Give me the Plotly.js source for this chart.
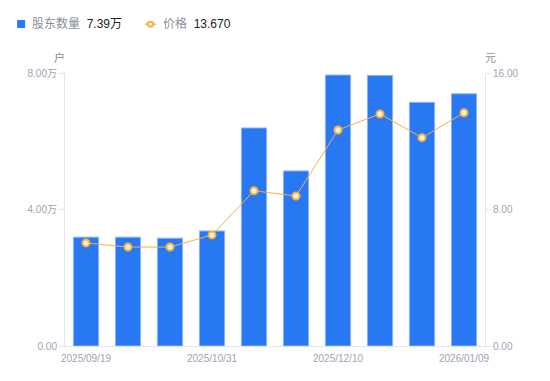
<!DOCTYPE html>
<html><head><meta charset="utf-8">
<script src="https://cdn.plot.ly/plotly-3.0.1.min.js"></script>
<style>html,body{margin:0;padding:0;background:#fff}#c{width:550px;height:381px}</style>
</head><body><div id="c"></div>
<script>
var dates = ["2025/09/19","2025/09/30","2025/10/20","2025/10/31","2025/11/10","2025/11/20","2025/12/10","2025/12/20","2025/12/31","2026/01/09"];
var holders = [31900, 31900, 31600, 33700, 63900, 51300, 79400, 79300, 71400, 73900];
var prices = [6.04, 5.80, 5.80, 6.51, 9.10, 8.79, 12.66, 13.60, 12.21, 13.67];
var xTicks = ["2025/09/19","2025/10/31","2025/12/10","2026/01/09"];
var leftTickVals = [0, 40000, 80000];
var leftTickText = ["0.00","4.00万","8.00万"];
var rightTickVals = [0, 8, 16];
var rightTickText = ["0.00","8.00","16.00"];

var FONT = "Liberation Sans, Arial, Noto Sans CJK SC, sans-serif";
var gray = "#9ea3b3";
var traces = [
  {type:"bar", x:dates, y:holders, name:"股东数量", yaxis:"y",
   marker:{color:"#2877f3", line:{color:"#8db6f7", width:1}}, hoverinfo:"none"},
  {type:"scatter", mode:"lines+markers", x:dates, y:prices, name:"价格", yaxis:"y2",
   line:{color:"#f9b13c", width:1},
   marker:{symbol:"circle", size:7, color:"#fff7e6", line:{color:"#f9b13c", width:2}}, hoverinfo:"none"}
];
var layout = {
  width:550, height:381, paper_bgcolor:"#fff", plot_bgcolor:"#fff",
  margin:{l:65, r:65, t:73, b:35},
  showlegend:false, bargap:0.4,
  font:{family:FONT, size:10, color:gray},
  xaxis:{type:"category", range:[-0.5, 9.5], tickmode:"array", tickvals:xTicks, ticktext:xTicks,
    showgrid:false, zeroline:false, showline:true, linecolor:"#e3e5ea", linewidth:1,
    ticks:"", ticklabelstandoff:3, tickfont:{size:10, color:gray}, fixedrange:true},
  yaxis:{range:[0,80000], tickmode:"array", tickvals:leftTickVals, ticktext:leftTickText,
    showgrid:false, zeroline:false, showline:true, linecolor:"#e3e5ea", linewidth:1,
    ticks:"outside", ticklen:5, tickcolor:"#e3e5ea", tickfont:{size:10, color:gray}},
  yaxis2:{range:[0,16], overlaying:"y", side:"right", tickmode:"array", tickvals:rightTickVals, ticktext:rightTickText,
    showgrid:false, zeroline:false, showline:true, linecolor:"#e3e5ea", linewidth:1,
    ticks:"outside", ticklen:5, tickcolor:"#e3e5ea", tickfont:{size:10, color:gray}},
  shapes:[
    {type:"rect", xref:"paper", yref:"paper", x0:-0.114, x1:-0.095, y0:1.194, y1:1.165, fillcolor:"#2877f3", line:{width:0}},
    {type:"line", xref:"paper", yref:"paper", x0:0.190, x1:0.217, y0:1.179, y1:1.179, line:{color:"#f9b13c", width:1.5}},
    {type:"circle", xref:"paper", yref:"paper", x0:0.1975, x1:0.2095, y0:1.170, y1:1.188, fillcolor:"#fff", line:{color:"#f9b13c", width:2}}
  ],
  annotations:[
    {xref:"paper", yref:"paper", x:-0.083, y:1.181, xanchor:"left", yanchor:"middle", showarrow:false,
     text:"<span style='color:#8a8f9c'>股东数量</span>  <span style='color:#222'>7.39万</span>", font:{size:12, family:"Liberation Sans, Noto Sans CJK SC, sans-serif"}},
    {xref:"paper", yref:"paper", x:0.228, y:1.181, xanchor:"left", yanchor:"middle", showarrow:false,
     text:"<span style='color:#8a8f9c'>价格</span>  <span style='color:#222'>13.670</span>", font:{size:12, family:"Liberation Sans, Noto Sans CJK SC, sans-serif"}},
    {xref:"paper", yref:"paper", x:-0.012, y:1.06, xanchor:"center", yanchor:"middle", showarrow:false,
     text:"户", font:{size:11, color:"#8a8f9c", family:"Noto Sans CJK SC, sans-serif"}},
    {xref:"paper", yref:"paper", x:1.012, y:1.06, xanchor:"center", yanchor:"middle", showarrow:false,
     text:"元", font:{size:11, color:"#8a8f9c", family:"Noto Sans CJK SC, sans-serif"}}
  ]
};
Plotly.newPlot("c", traces, layout, {displayModeBar:false, staticPlot:true});
</script>
</body></html>
